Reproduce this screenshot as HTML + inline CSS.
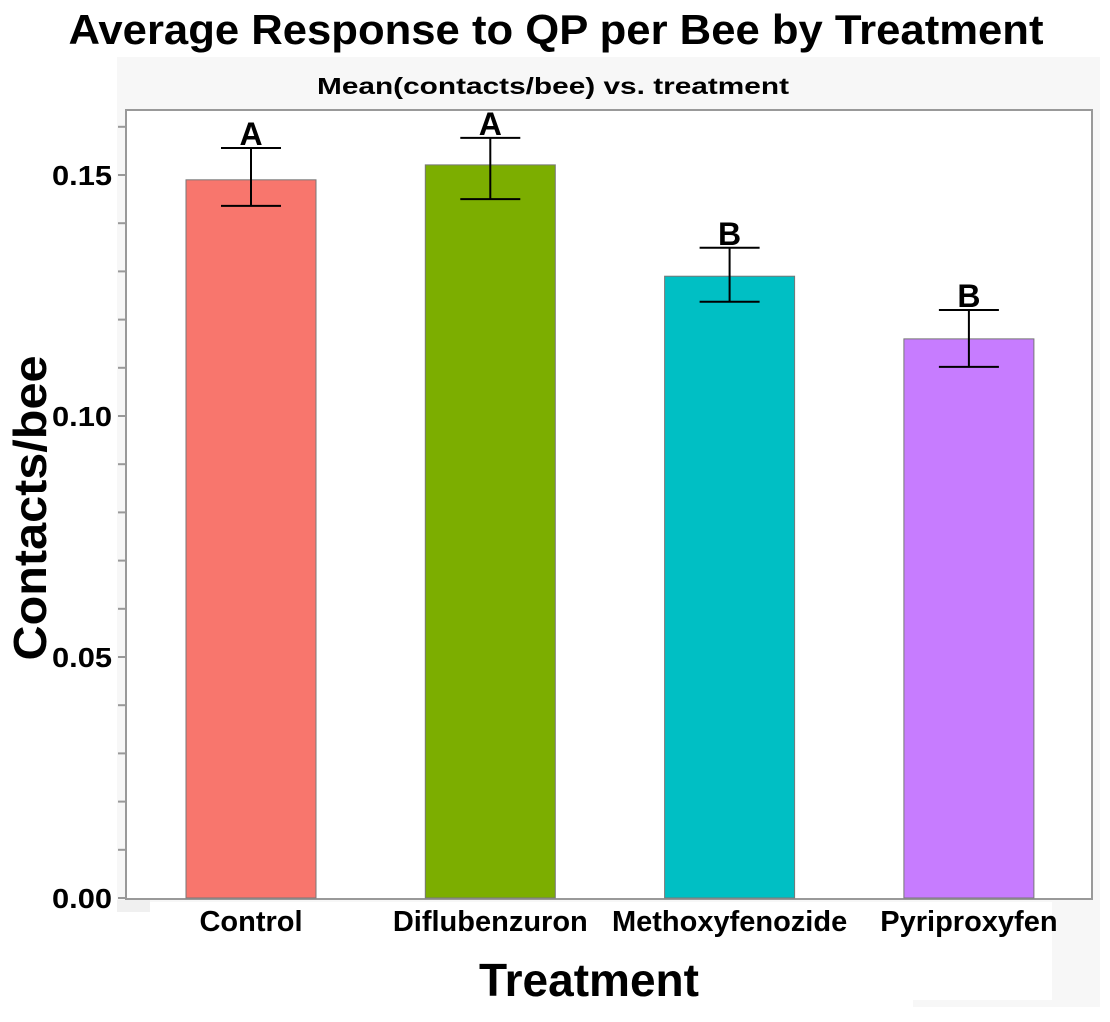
<!DOCTYPE html>
<html><head><meta charset="utf-8"><style>
body{margin:0;background:#fff;}
svg text{font-family:"Liberation Sans",sans-serif;font-weight:bold;}
</style></head><body>
<svg id="chart" width="1110" height="1017" viewBox="0 0 1110 1017" xmlns="http://www.w3.org/2000/svg">
<rect x="117" y="57" width="983" height="845" fill="#f7f7f7"/>
<rect x="1052" y="900" width="48" height="107" fill="#f7f7f7"/>
<rect x="913" y="1000" width="187" height="7" fill="#f7f7f7"/>
<rect x="117" y="900" width="33" height="12" fill="#f0f0f0"/>
<text x="556" y="44" font-size="42" text-anchor="middle" textLength="975" lengthAdjust="spacingAndGlyphs">Average Response to QP per Bee by Treatment</text>
<text x="553" y="94" font-size="23" text-anchor="middle" textLength="472" lengthAdjust="spacingAndGlyphs">Mean(contacts/bee) vs. treatment</text>
<rect x="126" y="110" width="966" height="789" fill="#fff" stroke="#999" stroke-width="2"/>
<g id="yaxis"></g>
<g id="bars"></g>
<g id="xaxis"></g>
<text transform="translate(46,508) rotate(-90)" font-size="46" text-anchor="middle" textLength="305" lengthAdjust="spacingAndGlyphs">Contacts/bee</text>
<text x="589" y="996" font-size="46" text-anchor="middle" textLength="220" lengthAdjust="spacingAndGlyphs">Treatment</text>
</svg>
<script>
const categories = ["Control","Diflubenzuron","Methoxyfenozide","Pyriproxyfen"];
const means = [0.149,0.1521,0.129,0.116];
const errHigh = [0.1556,0.1577,0.1349,0.122];
const errLow = [0.1436,0.145,0.1237,0.1102];
const letters = ["A","A","B","B"];
const yTickLabels = ["0.00","0.05","0.10","0.15"];
const yTickValues = [0,0.05,0.10,0.15];
const colors = ["#f8766d","#7cae00","#00bfc4","#c77cff"];
const NS="http://www.w3.org/2000/svg";
const y0=898, pxPer=4820;
function yScale(v){return y0-v*pxPer;}
function xCenter(i){return 251+i*239.3;}
function mk(tag,attrs,parent){const e=document.createElementNS(NS,tag);for(const k in attrs)e.setAttribute(k,attrs[k]);parent.appendChild(e);return e;}
const ya=document.getElementById('yaxis'), bg=document.getElementById('bars'), xa=document.getElementById('xaxis');
for(let m=0;m<=16;m++){
  const v=m/100;
  const t=mk('line',{x1:118,x2:126,y1:yScale(v),y2:yScale(v),stroke:'#999','stroke-width':2},ya);
  
  
}
yTickValues.forEach((v,i)=>{
  const t=mk('text',{x:112,y:yScale(v)+10,'font-size':28,'text-anchor':'end',textLength:60,lengthAdjust:'spacingAndGlyphs'},ya);
  
  
  t.textContent=yTickLabels[i];
});
categories.forEach((c,i)=>{
  const cx=xCenter(i);
  const r=mk('rect',{x:cx-65,y:yScale(means[i]),width:130,height:yScale(0)-yScale(means[i]),fill:colors[i],stroke:'#777','stroke-width':1},bg);
  
  
  const e=mk('path',{d:`M${cx-30},${yScale(errHigh[i])}H${cx+30}M${cx},${yScale(errHigh[i])}V${yScale(errLow[i])}M${cx-30},${yScale(errLow[i])}H${cx+30}`,stroke:'#000','stroke-width':2,fill:'none'},bg);
  
  
  const l=mk('text',{x:cx,y:yScale(errHigh[i])-3,'font-size':32,'text-anchor':'middle'},bg);
  
  
  l.textContent=letters[i];
  const tl=mk('text',{x:cx,y:931,'font-size':29,'text-anchor':'middle'},xa);
  
  
  tl.textContent=c;
});
</script>
</body></html>
